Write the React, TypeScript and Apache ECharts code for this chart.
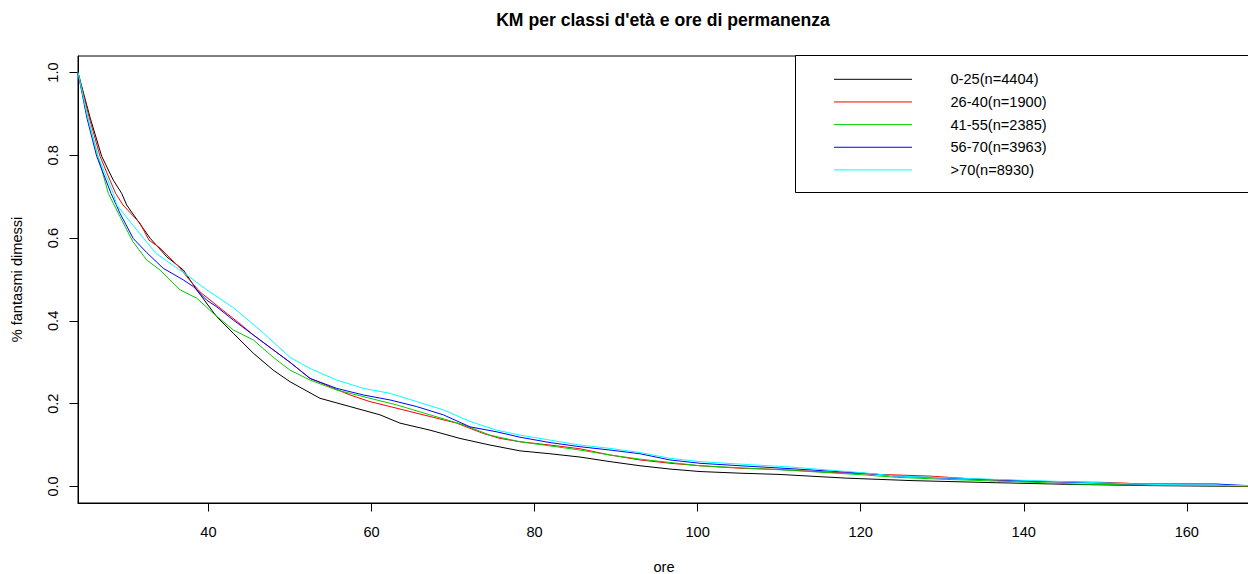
import React, { useEffect, useRef } from "react";
import * as echarts from "echarts";

const TITLE = "KM per classi d'età e ore di permanenza";
const X_NAME = "ore";
const Y_NAME = "% fantasmi dimessi";
const X_TICKS = [40, 60, 80, 100, 120, 140, 160];
const Y_TICKS = [0, 0.2, 0.4, 0.6, 0.8, 1.0];
const GROUPS = ["0-25(n=4404)", "26-40(n=1900)", "41-55(n=2385)", "56-70(n=3963)", ">70(n=8930)"];
const COLORS = ["#000000", "#FF0000", "#00CD00", "#0000FF", "#00FFFF"];

const HOURS_0_25 = [24, 25.5, 26.9, 28.33, 29.36, 29.97, 32.83, 34.88, 36.92, 38.56, 41.01, 43.05, 45.5, 47.95, 50, 53.68, 57.36, 61.04, 63.49, 67.17, 70.85, 74.53, 78.21, 81.89, 85.57, 89.25, 92.93, 96.61, 100.29, 105.2, 110.1, 118.28, 126.42, 136.68, 145.67, 155.5, 167.5];
const SURV_0_25 = [1, 0.89, 0.798, 0.74, 0.708, 0.68, 0.6, 0.555, 0.523, 0.475, 0.41, 0.37, 0.322, 0.281, 0.253, 0.213, 0.193, 0.173, 0.153, 0.136, 0.116, 0.1, 0.086, 0.079, 0.071, 0.06, 0.05, 0.042, 0.036, 0.032, 0.029, 0.02, 0.014, 0.009, 0.005, 0.002, 0.0];

const HOURS_26_40 = [24, 25.4, 26.7, 27.92, 28.62, 29.52, 31.6, 32.71, 34.06, 36.51, 37.33, 38.96, 41.42, 43.87, 45.5, 47.95, 50, 52.46, 54.91, 57.36, 59.81, 62.27, 64.72, 67.17, 70.45, 73.71, 75.76, 78.21, 81.89, 85.57, 89.25, 92.93, 96.61, 100.29, 105.2, 110.1, 116.24, 122.37, 128.5, 134.63, 141.13, 149.35, 152.5, 155.5, 167.5];
const SURV_26_40 = [1, 0.89, 0.798, 0.74, 0.708, 0.68, 0.636, 0.595, 0.576, 0.528, 0.507, 0.47, 0.431, 0.393, 0.366, 0.33, 0.3, 0.261, 0.241, 0.221, 0.205, 0.193, 0.181, 0.169, 0.153, 0.128, 0.116, 0.108, 0.1, 0.091, 0.076, 0.064, 0.056, 0.05, 0.044, 0.041, 0.034, 0.029, 0.025, 0.017, 0.012, 0.01, 0.008, 0.004, 0.001];

const HOURS_41_55 = [24, 25.2, 26.45, 27.72, 29.15, 30.75, 32.43, 34.06, 35.28, 36.51, 38.56, 40.6, 43.05, 45.5, 47.95, 50, 52.46, 55.73, 59.81, 63.09, 67.17, 71.26, 74.53, 78.21, 81.89, 85.57, 89.25, 92.93, 96.61, 100.29, 105.2, 111.33, 120.28, 124.42, 130.55, 136.68, 141.13, 146.04, 155.5, 167.5];
const SURV_41_55 = [1, 0.89, 0.798, 0.708, 0.652, 0.591, 0.547, 0.523, 0.499, 0.475, 0.455, 0.418, 0.378, 0.354, 0.312, 0.281, 0.257, 0.233, 0.213, 0.197, 0.173, 0.149, 0.124, 0.108, 0.098, 0.088, 0.076, 0.066, 0.058, 0.05, 0.045, 0.039, 0.028, 0.022, 0.017, 0.013, 0.01, 0.006, 0.003, 0.001];

const HOURS_56_70 = [24, 25.1, 26.29, 28.05, 29.15, 30.78, 32.43, 34.46, 36.92, 38.14, 39.79, 41.01, 43.05, 45.5, 47.95, 50, 52.46, 55.73, 58.99, 62.27, 65.54, 68.81, 72.08, 75.35, 78.21, 81.89, 85.57, 89.25, 92.93, 96.61, 100.29, 105.2, 111.33, 120.28, 124.42, 130.55, 136.68, 141.13, 146.04, 153.03, 163.46, 167.5];
const SURV_56_70 = [1, 0.89, 0.798, 0.708, 0.66, 0.599, 0.565, 0.527, 0.499, 0.483, 0.45, 0.434, 0.402, 0.366, 0.33, 0.3, 0.261, 0.237, 0.221, 0.209, 0.193, 0.173, 0.144, 0.132, 0.119, 0.106, 0.096, 0.088, 0.079, 0.064, 0.056, 0.05, 0.043, 0.032, 0.025, 0.02, 0.016, 0.013, 0.01, 0.006, 0.006, 0.002];

const HOURS_OVER_70 = [24, 25.2, 26.45, 28.33, 28.75, 31.2, 33.57, 36.92, 39.79, 43.05, 46.32, 50, 52.46, 55.73, 58.99, 62.27, 65.54, 68.81, 72.08, 75.35, 78.21, 81.89, 85.57, 89.25, 92.93, 96.61, 100.29, 105.2, 111.33, 120.28, 124.42, 130.55, 136.68, 141.13, 146.04, 155.5, 167.5];
const SURV_OVER_70 = [1, 0.89, 0.798, 0.708, 0.68, 0.62, 0.563, 0.517, 0.475, 0.432, 0.378, 0.312, 0.285, 0.257, 0.237, 0.225, 0.205, 0.185, 0.157, 0.136, 0.124, 0.112, 0.1, 0.092, 0.082, 0.068, 0.06, 0.054, 0.047, 0.033, 0.025, 0.021, 0.017, 0.014, 0.011, 0.005, 0.002];

const HOURS = [HOURS_0_25, HOURS_26_40, HOURS_41_55, HOURS_56_70, HOURS_OVER_70];
const SURV = [SURV_0_25, SURV_26_40, SURV_41_55, SURV_56_70, SURV_OVER_70];

const FONT = "'Liberation Sans', Arial, Helvetica, sans-serif";

export default function App() {
  const ref = useRef<HTMLDivElement>(null);
  useEffect(() => {
    if (!ref.current) return;
    const chart = echarts.init(ref.current, null, { renderer: "svg" });
    const series = GROUPS.map((name, i) => ({
      name,
      type: "line",
      data: HOURS[i].map((h, j) => [h, SURV[i][j]]),
      showSymbol: false,
      symbol: "none",
      lineStyle: { color: COLORS[i], width: 1 },
      itemStyle: { color: COLORS[i] },
      z: 2 + i,
    }));
    const legendGraphics: any[] = [
      {
        type: "rect",
        shape: { x: 795.5, y: 55.5, width: 600, height: 137 },
        style: { fill: "#fff", stroke: "#000", lineWidth: 1 },
        z: 50,
      },
    ];
    GROUPS.forEach((g, i) => {
      const y = 79.3 + i * 22.65;
      legendGraphics.push({
        type: "line",
        shape: { x1: 834, y1: y, x2: 912, y2: y },
        style: { stroke: COLORS[i], lineWidth: 1 },
        z: 51,
      });
      legendGraphics.push({
        type: "text",
        x: 950.5,
        y,
        style: { text: g, fill: "#000", font: `14.6px ${FONT}`, verticalAlign: "middle", align: "left" },
        z: 51,
      });
    });
    chart.setOption({
      animation: false,
      backgroundColor: "#fff",
      textStyle: { fontFamily: FONT },
      title: {
        text: TITLE,
        left: 663,
        top: 11,
        padding: 0,
        textAlign: "center",
        textStyle: { fontSize: 17.6, fontWeight: "bold", color: "#000", fontFamily: FONT },
      },
      grid: {
        left: 78,
        top: 56,
        width: 1172,
        height: 447,
        show: true,
        borderColor: "#000",
        borderWidth: 1,
        backgroundColor: "transparent",
        containLabel: false,
        outerBoundsMode: "none",
      },
      xAxis: {
        type: "value",
        min: 24,
        max: 167.75,
        name: X_NAME,
        nameLocation: "middle",
        nameGap: 56,
        nameTextStyle: { fontSize: 14.6, color: "#000", fontFamily: FONT },
        axisLine: { show: true, onZero: false, lineStyle: { color: "#000", width: 1 } },
        axisTick: { show: true, length: 8.5, lineStyle: { color: "#000" }, customValues: X_TICKS },
        axisLabel: { show: true, customValues: X_TICKS, margin: 21, fontSize: 14.6, color: "#000", fontFamily: FONT },
        splitLine: { show: false },
      },
      yAxis: {
        type: "value",
        min: -0.04,
        max: 1.04,
        name: Y_NAME,
        nameLocation: "middle",
        nameGap: 54,
        nameRotate: 90,
        nameTextStyle: { fontSize: 14.6, color: "#000", fontFamily: FONT },
        axisLine: { show: true, onZero: false, lineStyle: { color: "#000", width: 1 } },
        axisTick: { show: true, length: 8.5, lineStyle: { color: "#000" }, customValues: Y_TICKS },
        axisLabel: {
          show: true,
          customValues: Y_TICKS,
          rotate: 90,
          margin: 18,
          fontSize: 14.6,
          color: "#000",
          fontFamily: FONT,
          formatter: (v: number) => v.toFixed(1),
        },
        splitLine: { show: false },
      },
      graphic: legendGraphics,
      series,
    });
    return () => chart.dispose();
  }, []);
  return <div ref={ref} style={{ position: "fixed", left: 0, top: 0, width: 1248, height: 574 }} />;
}
